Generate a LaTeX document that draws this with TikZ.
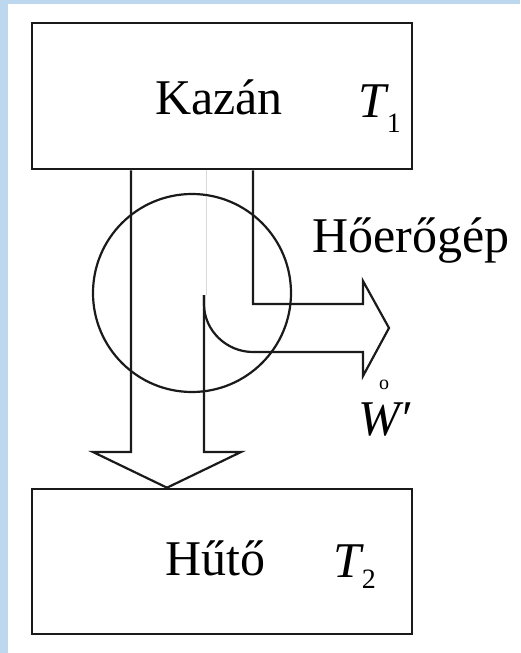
\documentclass[tikz,border=0pt]{standalone}
\usepackage{fontspec}
\setmainfont{Liberation Serif}
\definecolor{slideblue}{HTML}{BDD7EE}
\definecolor{lineblack}{HTML}{1A1A1A}
\usetikzlibrary{calc, positioning}

\begin{document}
\begin{tikzpicture}[x=1pt, y=-1pt,
      tank/.style={draw=lineblack, line width=2.6pt, rectangle, minimum width=380pt, inner sep=0pt},
      flow/.style={draw=lineblack, line width=2.2pt, line join=miter},
      lbl/.style={anchor=base west, inner sep=0pt, font=\fontsize{50}{60}\selectfont}]
   % Background
   \fill[slideblue] (0,0) rectangle (520,653);
   \fill[white] (8,4) rectangle (520,653);
   \useasboundingbox (0,0) rectangle (520,653);
   % Reservoirs
   \node[tank, minimum height=146pt] (kazan) at (222,96) {};
   \node[tank, minimum height=145pt] (huto) at (222,561.5) {};
   % Faint split line
   \draw[black!15, line width=0.6pt] (206,0 |- kazan.south) -- (206,295);
   % Heat to the cooler
   \draw[flow] (131,0 |- kazan.south) -- (131,452) -- (93,452)
      -- (167,0 |- huto.north) -- (241,452) -- (204,452) -- (204,295);
   % Work out of the engine
   \coordinate (work) at (389,328);
   \draw[flow] (253,0 |- kazan.south) -- (253,304) -- (363,304) -- (363,281)
      -- (work) -- (363,376) -- (363,352) -- (253,352)
      .. controls (226.5,352) and (204,330.5) .. (204,304) -- (204,295);
   % Engine
   \node[draw=lineblack, line width=2.2pt, circle, minimum size=198pt, inner sep=0pt] (engine) at (192,293) {};
   % Labels
   \node[lbl] (kazanlbl) at (155,114) {Kazán};
   \node[lbl] (tone) at (358,117) {\textit{T}\kern-2pt\raisebox{-15pt}{\fontsize{28}{28}\selectfont 1}};
   \node[lbl] (enginelbl) at (312,252) {Hőerőgép};
   \node[lbl] (hutolbl) at (165,575) {Hűtő};
   \node[lbl] (ttwo) at (333,577) {\textit{T}\kern-2pt\raisebox{-11pt}{\fontsize{28}{28}\selectfont 2}};
   \node[lbl] (worklbl) at (358,435) {\makebox[0pt][l]{\hspace{21pt}\raisebox{46pt}{\fontsize{20}{20}\selectfont o}}\textit{W′}};
\end{tikzpicture}
\end{document}
